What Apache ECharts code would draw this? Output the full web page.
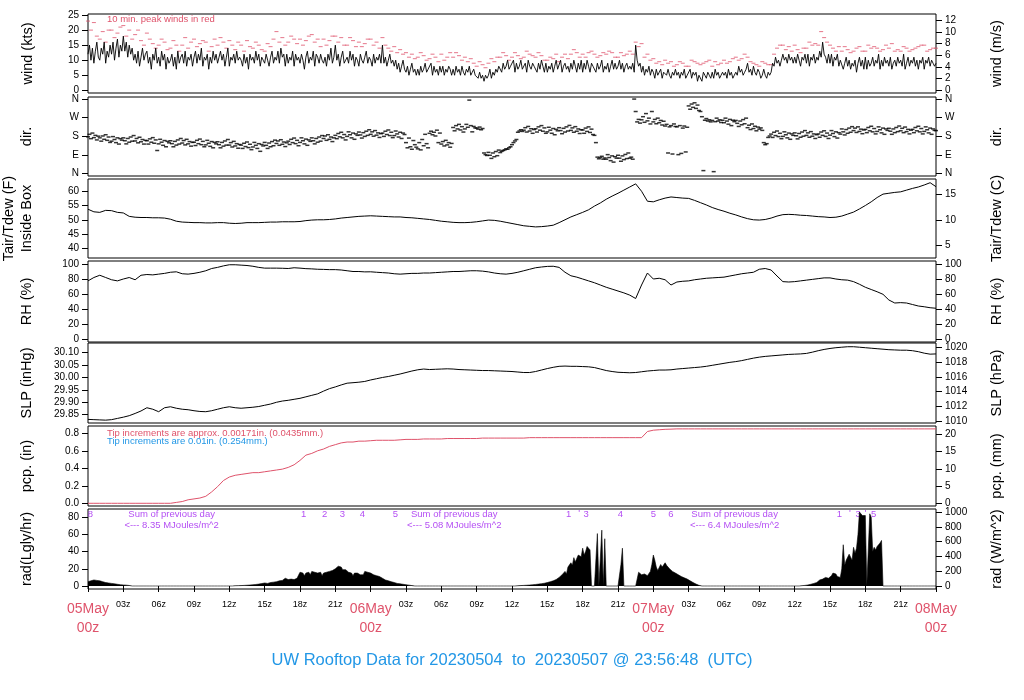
<!DOCTYPE html>
<html><head><meta charset="utf-8">
<script src="https://cdn.jsdelivr.net/npm/echarts@6/dist/echarts.min.js"></script>
<style>html,body{margin:0;padding:0;background:#fff}#c{width:1024px;height:700px}</style>
</head><body><div id="c"></div>
<script>
// ---------- DATA ----------
// hours since 05May 00z. wind, direction, radiation: every 0.125 h; peak wind every 0.25 h; others every 0.5 h
const windKts = [
12,15,10,14,9,13,16,11, 10,14,12,16,9,13,11,15, 12,16,10,14,17,11,15,13, 18,13,16,11,15,12,14,10,
12,9,13,8,11,14,10,12, 13,9,11,7,12,10,14,9, 11,8,13,10,12,7,11,9, 10,12,8,11,7,13,9,11,
12,9,13,8,11,10,12,8, 11,13,9,12,10,14,8,11, 10,12,7,11,9,13,10,12, 9,11,13,10,12,8,11,14,
8,11,10,12,9,13,10,11, 10,8,12,9,11,7,12,10, 11,9,13,10,12,8,11,10, 9,12,10,8,11,13,9,11,
10,13,9,14,11,12,8,12, 9,11,10,13,8,12,10,11, 9,12,10,7,11,13,9,11, 10,13,8,12,11,9,12,10,
9,11,8,12,10,14,9,11, 15,10,12,8,11,13,9,10, 11,9,13,10,12,8,11,10, 8,12,10,9,11,13,9,11,
10,8,12,9,11,10,12,9, 15,9,11,8,10,12,9,10, 8,10,7,9,6,8,10,7, 6,8,5,7,9,6,7,5,
7,5,8,6,7,9,6,7, 7,9,5,8,6,7,5,8, 6,8,5,7,6,8,7,5, 7,5,8,6,7,5,8,6,
5,7,6,8,5,6,7,5, 5,4,6,4,5,3,5,4, 5,7,4,6,5,7,6,8, 8,6,9,7,8,10,7,8,
8,10,6,9,7,8,10,7, 7,9,6,10,8,7,9,8, 8,6,9,7,10,8,6,9, 6,8,7,9,6,8,10,7,
7,10,6,8,9,7,8,6, 9,7,10,8,6,9,7,10, 6,9,7,10,8,6,9,8, 8,6,9,7,8,10,6,8,
7,9,6,8,10,7,9,7, 8,10,7,9,6,8,9,7, 8,7,9,6,15,10,8,9, 6,8,5,7,6,8,5,7,
6,4,7,5,6,7,4,6, 6,5,7,5,4,6,5,7, 5,6,4,6,5,7,4,5, 5,7,4,6,5,6,3,5,
5,3,6,5,4,6,5,4, 6,4,7,5,6,4,5,6, 5,6,4,7,5,6,4,5, 6,5,8,6,7,5,6,7,
9,6,7,5,8,6,5,7, 6,4,5,7,5,4,6,5, 6,9,8,11,9,10,8,10, 12,10,11,9,12,10,11,9,
11,9,12,10,8,11,10,12, 9,12,8,11,10,12,9,11, 10,13,11,16,12,11,9,12, 9,12,8,11,10,12,8,10,
10,7,9,11,8,10,7,9, 8,10,6,9,11,8,10,7, 11,7,10,8,9,11,8,10, 9,12,7,10,8,11,9,10,
8,11,7,9,10,8,11,9, 10,8,12,7,9,11,8,10, 9,11,8,10,7,10,9,11, 7,10,9,11,8,10,9,8,
9];
const peakKts = [
23,20,22.5,18, 17,19.5,16,20, 20,17.5,19,21, 21.5,18,20,17, 18.5,20,16.5,15, 19,17,15.5,14,
15,17,16,13.5, 14,16.5,15,13, 15,17.5,14,16, 17,14.5,15.5,16.5, 16,13,14.5,17, 15,17.5,16,14,
16.5,15,13.5,16, 15,13,16.5,14.5, 14,16,15,13.5, 13,15.5,14.5,17, 19.5,16,17.5,15, 16,18,17,15.5,
17,15,16.5,18, 18.5,16,17,14.5, 17,15,16.5,18, 18,16,17.5,15, 15,17.5,16.5,14.5, 16,14.5,15.5,17,
17,15,16,14, 17.5,15,14,13, 14.5,12.5,13.5,12, 12.5,11,12,10.5, 11,12.5,11.5,10, 10.5,12,11,9.5,
12,10,11,12.5, 11,12.5,11.5,10, 11,9.5,10.5,9, 8,9.5,8.5,7.5, 9,10.5,9.5,11, 11,12.5,11.5,10,
11,12.5,11.5,10.5, 11,13,12,11.5, 11,12.5,11.5,10, 10,11,10.5,12, 9.5,11,12,10.5, 12,13.5,12.5,11,
12,11,12.5,13, 12,11,11.5,12.5, 12,13,12.5,11, 11,12.5,11.5,12, 13,12,16,14.5, 15.5,11,12,10,
10.5,9,9.5,8.5, 10,9,9.5,8, 8.5,9.5,9,8, 8,10,9.5,9, 8.5,9,9.5,10, 8,9.5,8.5,9,
10,9,9.5,10.5, 11,10,10.5,12, 11,9.5,9,8.5, 8,9.5,9,8.5, 8.5,12,14,15, 15,13.5,14.5,13,
15,13.5,12.5,14, 14,16,15,15.5, 15,19.5,17.5,16, 15,14,13,14.5, 13,14.5,13.5,12.5, 13,14,14.5,13,
13,15,14,14.5, 14,13,13.5,15, 14,15.5,13,13.5, 13,14.5,14,13, 13.5,14,14.5,15, 15,13,13.5,14,
14];
const dirDeg = [
178,190,169,196,174,185,163,181, 173,157,182,166,188,161,177,151, 157,179,165,150,173,143,169,162,
173,159,144,170,152,177,157,184, 158,170,149,176,154,165,143,161, 159,143,168,152,174,147,163,112,
144,166,152,137,160,130,156,149, 159,145,130,156,138,163,143,170, 148,160,139,166,144,155,133,151,
152,136,161,145,167,140,156,130, 139,161,147,132,155,125,151,144, 154,140,125,151,133,158,138,165,
138,150,129,156,134,145,123,141, 138,122,147,131,153,126,142,116, 129,151,137,122,145,108,141,134,
151,137,122,148,130,155,135,162, 146,158,137,164,142,153,131,149, 157,141,166,150,172,145,161,135,
151,173,159,144,167,137,163,156, 173,159,144,170,152,177,157,184, 170,182,161,188,166,177,155,173,
185,169,194,178,200,173,189,163, 180,202,188,173,196,166,192,185, 201,187,172,198,180,205,185,212,
190,202,181,208,186,197,175,193, 196,180,205,189,211,184,200,174, 184,206,192,177,200,170,196,189,
150,125,172,130,118,160,140,128, 120,150,115,165,135,190,145,125, 195,205,188,200,182,210,150,196,
143,155,134,161,139,150,128,146, 223,207,232,216,238,211,227,201, 216,238,224,355,232,202,228,221,
220,215,225,212,218,100,92,88, 103,89,74,100,82,107,87,114, 102,108,112,115,120,118,125,130,
140,150,158,165,200,206,212,204, 210,222,201,228,206,217,195,213, 217,201,226,210,232,205,221,195,
202,224,210,195,218,188,214,207, 222,208,193,219,201,226,206,233, 209,221,200,227,205,216,194,212,
211,195,220,204,226,199,215,189, 185,150,80,72,78,84,70,76, 70,92,78,63,86,56,82,75,
89,75,60,86,68,93,73,100, 75,80,70,360,300,250,262,244, 260,275,248,290,255,268,240,300,
250,262,241,268,246,257,235,253, 230,238,100,226,232,95,240,228, 226,92,232,98,220,230,105,224,
327,311,336,320,342,315,331,305, 300,275,15,258,266,254,260,250, 257,10,251,268,254,260,247,258,
246,268,254,239,262,232,258,251, 257,243,228,254,236,261,241,268, 222,234,213,240,218,229,207,225,
215,221,209,150,140,145,175,182, 191,175,200,184,206,179,195,169, 180,202,188,173,196,166,192,185,
197,183,168,194,176,201,181,208, 185,197,176,203,181,192,170,188, 192,176,201,185,207,180,196,170,
186,208,194,179,202,172,198,191, 216,202,187,213,195,220,200,227, 208,220,199,226,204,215,193,211,
214,198,223,207,229,202,218,192, 204,226,212,197,220,190,216,209, 219,205,190,216,198,223,203,230,
207,219,198,225,203,214,192,210, 214,198,223,207,229,202,218,192, 204,226,212,197,220,190,216,209,
208];
const tempF = [
53.7,52.8,52.6,53.3,53.2,52.6,52.4,51.2,50.9,50.8, 50.8,50.7,50.7,50.6,50.2,49.5,49.2,49.1,49.0,49.0,
48.9,48.9,49.0,49.0,48.8,48.7,48.8,49.0,49.0,49.0, 49.1,49.2,49.2,49.3,49.3,49.3,49.4,49.7,49.9,50.0,
50.0,50.1,50.3,50.6,50.8,51.0,51.2,51.3,51.4,51.3, 51.2,51.1,51.0,51.0,50.8,50.7,50.5,50.3,50.1,49.8,
49.5,49.3,49.1,49.0,49.0,49.1,49.3,49.6,49.9,49.8, 49.5,49.1,48.7,48.3,47.9,47.7,47.5,47.6,47.8,48.1,
49.0,50.0,51.0,51.8,52.6,53.5,54.8,55.9,57.2,58.3, 59.3,60.4,61.5,62.6,60.0,56.5,56.3,57.0,57.6,58.0,
57.8,57.6,57.5,56.8,56.0,55.2,54.3,53.6,53.0,52.3, 51.7,51.0,50.4,50.0,49.9,50.1,50.6,51.3,51.8,51.9,
51.8,51.6,51.5,51.3,51.1,51.0,50.8,50.9,51.3,52.0, 52.7,53.8,55.0,56.3,57.8,59.0,59.3,59.6,59.8,60.4,
61.0,61.5,62.2,63.0,61.6];
const rhPct = [
77.5,82,85,82,79,77.5,80,82,79,85, 86,85.5,86.5,87.5,89,89.6,87,86.5,87.5,89,
91,94,95.5,97.5,99,99,98.5,98,97,95.5, 94.5,94.5,94.5,94.3,94,95,94.5,93.8,93.5,93,
92.8,92.5,92.5,92,91,90,90,89.5,89.6,89, 88.5,88,87,86.5,87,87.5,87.5,88,88,88.5,
89,89.5,90,90,90.5,91,91,90.5,89.5,88, 87,86.5,87.5,89,91,93,95,96,96.8,97,
95.5,89,84.3,82.5,80,77.5,75,72,69,66.5, 64,61.5,58.5,54,72,88,80,81,79,72,
76,77,77.5,79,80,81,81.5,82,82.5,84, 85.5,87,88,89,93,94,92,84,76.5,76,
76.5,77.5,78.5,79.5,80.5,81.5,81.5,80,79,78.5, 76.5,73,69,66,63,59.6,52,48,48.5,48,
46,44,43,41.7,41];
const slpInHg = [
29.831,29.830,29.829,29.828,29.830,29.835,29.840,29.846,29.855,29.865,
29.878,29.872,29.862,29.878,29.882,29.876,29.872,29.870,29.866,29.863,
29.862,29.866,29.872,29.878,29.882,29.878,29.876,29.878,29.880,29.883,
29.888,29.893,29.900,29.905,29.908,29.912,29.916,29.922,29.928,29.934,
29.945,29.955,29.962,29.970,29.977,29.979,29.981,29.984,29.990,29.995,
30.000,30.004,30.009,30.014,30.020,30.026,30.031,30.034,30.032,30.033,
30.034,30.035,30.034,30.032,30.031,30.030,30.029,30.028,30.028,30.027,
30.026,30.025,30.024,30.022,30.020,30.020,30.024,30.030,30.036,30.041,
30.045,30.046,30.045,30.045,30.044,30.043,30.040,30.034,30.028,30.024,
30.021,30.020,30.019,30.020,30.023,30.026,30.028,30.030,30.030,30.031,
30.034,30.036,30.038,30.040,30.042,30.045,30.049,30.053,30.057,30.061,
30.064,30.068,30.073,30.078,30.082,30.085,30.087,30.089,30.091,30.093,
30.094,30.095,30.097,30.102,30.108,30.113,30.117,30.120,30.122,30.124,
30.124,30.122,30.120,30.118,30.116,30.114,30.112,30.111,30.110,30.110,
30.108,30.104,30.098,30.094,30.095];
const pcpIn = [
0,0,0,0,0,0,0,0,0,0, 0,0,0,0,0,0.01,0.02,0.04,0.05,0.06,
0.08,0.13,0.19,0.26,0.30,0.32,0.33,0.34,0.35,0.35, 0.36,0.37,0.38,0.39,0.41,0.44,0.49,0.55,0.57,0.60,
0.62,0.65,0.67,0.69,0.70,0.70,0.71,0.71,0.715,0.72, 0.72,0.72,0.72,0.725,0.73,0.73,0.73,0.735,0.735,0.735,
0.735,0.74,0.74,0.74,0.74,0.74,0.74,0.745,0.745,0.745, 0.745,0.745,0.745,0.745,0.745,0.75,0.75,0.75,0.75,0.75,
0.75,0.75,0.75,0.75,0.75,0.75,0.75,0.75,0.75,0.75, 0.75,0.75,0.75,0.75,0.75,0.82,0.835,0.84,0.845,0.847,
0.85,0.85,0.85,0.85,0.85,0.85,0.85,0.85,0.85,0.85, 0.85,0.85,0.85,0.85,0.85,0.85,0.85,0.85,0.85,0.85,
0.85,0.85,0.85,0.85,0.85,0.85,0.85,0.85,0.85,0.85, 0.85,0.85,0.85,0.85,0.85,0.85,0.85,0.85,0.85,0.85,
0.85,0.85,0.85,0.85,0.85];
const radLy = [
5,5.5,6,6.5,7,6.5,6.5,6, 6,5.5,5,4.5,4,3.8,3.5,3.2, 3,2.8,2.5,2.2,2,1.8,1.5,1.3, 1.2,1.1,1,0.8,0.6,0.3,0,0,
0,0,0,0,0,0,0,0, 0,0,0,0,0,0,0,0, 0,0,0,0,0,0,0,0, 0,0,0,0,0,0,0,0,
0,0,0,0,0,0,0,0, 0,0,0,0,0,0,0,0, 0,0,0,0,0,0,0,0, 0,0,0,0,0,0,0,0,
0,0,0,0,0.3,0.3,0.4,0.4, 0.5,0.6,0.7,0.8,0.9,1,1.1,1.2, 1.4,1.6,1.8,2,2.2,2.5,2.8,3, 3.5,3.2,3,3.8,4,4.2,4.5,4,
5,5.5,6,5.5,6.5,8,9,7, 7.5,7,8,8.5,7.5,8.5,9,8, 16,14,15,12,15,17,16,13, 17,15,16,14,15,14,16,12,
15,17,16,18,17,19,18,19, 20,21,23,22,22,19,20,19, 19,16,17,15,12,15,14,15, 15,13,14,13,17,18,16,15,
15,14,13,14,12,13,11,10, 9,8,7,7,6,5.5,5,4.5, 4,3.5,3,3,2.5,2.2,2,1.8, 1.5,1.2,1,0.8,0.5,0.3,0,0,
0,0,0,0,0,0,0,0, 0,0,0,0,0,0,0,0, 0,0,0,0,0,0,0,0, 0,0,0,0,0,0,0,0,
0,0,0,0,0,0,0,0, 0,0,0,0,0,0,0,0, 0,0,0,0,0,0,0,0, 0,0,0,0,0,0,0,0,
0,0,0,0,0.3,0.4,0.5,0.6, 0.7,0.8,0.9,1,1.1,1.2,1.4,1.6, 1.8,2,2.2,2.5,2.7,3,3.2,3.6, 4,4.5,5,5.5,6,7,7.5,8.5,
10,12,13,15,17,14,22,20, 27,24,33,28,30,36,38,34, 44,36,40,46,48,42,0,0, 0,0,61,0,0,65,0,55,
0,0,0,0,0,0,0,0, 0,0,25,44,0,0,0,0, 0,0,0,0,0,0,16,18, 13,15,14,12,12,14,17,25,
36,30,22,18,20,25,22,20, 27,24,22,20,18,17,16,15, 14,13,12,11,10,9.5,9,8, 7,6,5,4,3,2.2,1.5,0.8,
0,0,0,0,0,0,0,0, 0,0,0,0,0,0,0,0, 0,0,0,0,0,0,0,0, 0,0,0,0,0,0,0,0,
0,0,0,0,0,0,0,0, 0,0,0,0,0,0,0,0, 0,0,0,0,0,0,0,0, 0,0,0,0,0,0,0,0,
0,0,0,0,0.3,0.4,0.5,0.7, 1,1.2,1.5,2,2.5,3,3.5,4, 5,7,9,8,8,10,11,9, 10,12,15,13,14,11,12,10,
20,48,24,30,32,37,35,30, 45,38,44,60,86,84,82,80, 82,0,0,84,80,40,45,42, 46,48,50,53,0,0,0,0,
0,0,0,0,0,0,0,0, 0,0,0,0,0,0,0,0, 0,0,0,0,0,0,0,0, 0,0,0,0,0,0,0,0,
0];
const dayLabels = ['05May', '06May', '07May', '08May'];
const dirLabels = {0: 'N', 90: 'E', 180: 'S', 270: 'W', 360: 'N'};
const radNotes = [
  [0.2, 83.7, '8'], [7.1, 83.7, 'Sum of previous day'], [7.1, 70, '<--- 8.35 MJoules/m^2'],
  [18.3, 83.7, '1'], [20.1, 83.7, '2'], [21.6, 83.7, '3'], [23.3, 83.7, '4'], [26.1, 83.7, '5'],
  [31.1, 83.7, 'Sum of previous day'], [31.1, 70, '<--- 5.08 MJoules/m^2'],
  [40.8, 83.7, '1'], [41.7, 85, "'"], [42.3, 83.7, '3'], [45.2, 83.7, '4'], [48.0, 83.7, '5'], [49.5, 83.7, '6'],
  [54.9, 83.7, 'Sum of previous day'], [54.9, 70, '<--- 6.4 MJoules/m^2'],
  [63.8, 83.7, '1'], [64.7, 85, "'"], [65.4, 83.7, '3'], [66.0, 85, "'"], [66.7, 83.7, '5']
];
const titleText = 'UW Rooftop Data for 20230504  to  20230507 @ 23:56:48  (UTC)';

// ---------- CHART ----------
const FONT = '"Liberation Sans", Arial, Helvetica, sans-serif';
const RED = '#DF536B', BLUE = '#2297E6', PURPLE = '#A020F0';
const L = 88, R = 88;
const panels = [
  {top: 14, h: 79}, {top: 97, h: 79}, {top: 179, h: 79}, {top: 261, h: 81},
  {top: 343, h: 80}, {top: 426, h: 80}, {top: 509, h: 80}
];
const series = (arr, step) => arr.map((v, i) => [i * step, v]);

function yAx(gi, pos, min, max, ticks, fmt) {
  return {
    type: 'value', gridIndex: gi, position: pos, min: min, max: max,
    axisLine: {show: false}, splitLine: {show: false},
    axisTick: {show: true, length: 6, customValues: ticks, lineStyle: {color: '#000', width: 1}},
    axisLabel: {customValues: ticks, formatter: fmt, fontSize: 10, color: '#000', margin: 9, fontFamily: FONT}
  };
}
const KT2MS = 0.514444, INHG2HPA = 33.8639, IN2MM = 25.4, LY2W = 11.622;
const f2c = f => (f - 32) / 1.8;
const yAxes = [
  yAx(0, 'left', -0.9, 25.35, [0,5,10,15,20,25], v => String(v)),
  yAx(0, 'right', -0.9 * KT2MS, 25.35 * KT2MS, [0,2,4,6,8,10,12], v => String(v)),
  yAx(1, 'left', -11, 370, [0,90,180,270,360], v => dirLabels[v]),
  yAx(1, 'right', -11, 370, [0,90,180,270,360], v => dirLabels[v]),
  yAx(2, 'left', 36.6, 64.3, [40,45,50,55,60], v => String(v)),
  yAx(2, 'right', f2c(36.6), f2c(64.3), [5,10,15], v => String(v)),
  yAx(3, 'left', -4, 104, [0,20,40,60,80,100], v => String(v)),
  yAx(3, 'right', -4, 104, [0,20,40,60,80,100], v => String(v)),
  yAx(4, 'left', 29.8165, 30.139, [29.85,29.90,29.95,30.00,30.05,30.10], v => v.toFixed(2)),
  yAx(4, 'right', 29.8165 * INHG2HPA, 30.139 * INHG2HPA, [1010,1012,1014,1016,1018,1020], v => String(v)),
  yAx(5, 'left', -0.031, 0.883, [0,0.2,0.4,0.6,0.8], v => v.toFixed(1)),
  yAx(5, 'right', -0.031 * IN2MM, 0.883 * IN2MM, [0,5,10,15,20], v => String(v)),
  yAx(6, 'left', -3.5, 89.6, [0,20,40,60,80], v => String(v)),
  yAx(6, 'right', -3.5 * LY2W, 89.6 * LY2W, [0,200,400,600,800,1000], v => String(v))
];
const xAxes = panels.map((p, i) => ({
  type: 'value', gridIndex: i, min: 0, max: 72, interval: 3, show: i === 6,
  axisLine: {show: false}, splitLine: {show: false},
  axisTick: {show: true, length: 6, lineStyle: {color: '#000'}},
  axisLabel: {
    fontSize: 9, color: '#000', margin: 11, lineHeight: 10, fontFamily: FONT,
    formatter: v => {
      const hh = v % 24;
      if (hh === 0) return '{d|' + dayLabels[v / 24] + '}\n{d|00z}';
      return (hh < 10 ? '0' : '') + hh + 'z';
    },
    rich: {d: {fontSize: 14, lineHeight: 19, color: RED, fontFamily: FONT}}
  }
}));
const grids = panels.map(p => ({left: L, right: R, top: p.top, height: p.h, show: true,
  borderColor: '#000', borderWidth: 1, backgroundColor: 'transparent'}));

const lineS = (xi, yi, data, color, w) => ({type: 'line', xAxisIndex: xi, yAxisIndex: yi, data: data,
  symbol: 'none', lineStyle: {color: color, width: w || 1}, itemStyle: {color: color},
  animation: false, silent: true});

const leftTitles = [['wind (kts)', 28, 0], ['dir.', 27, 1], ['Tair/Tdew (F)', 9, 2], ['Inside Box', 27, 2],
  ['RH (%)', 27, 3], ['SLP (inHg)', 27, 4], ['pcp. (in)', 27, 5], ['rad(Lgly/hr)', 27, 6]];
const rightTitles = [['wind (m/s)', 997, 0], ['dir.', 997, 1], ['Tair/Tdew (C)', 997, 2], ['RH (%)', 997, 3],
  ['SLP (hPa)', 997, 4], ['pcp. (mm)', 997, 5], ['rad (W/m^2)', 997, 6]];
const graphics = leftTitles.concat(rightTitles).map(t => ({
  type: 'text', x: t[1], y: panels[t[2]].top + panels[t[2]].h / 2, rotation: Math.PI / 2,
  style: {text: t[0], fontSize: 14.5, fontFamily: FONT, fill: '#000', textAlign: 'center', textVerticalAlign: 'middle'}
}));
graphics.push(
  {type: 'text', x: 107, y: 19, style: {text: '10 min. peak winds in red', fontSize: 9.5, fontFamily: FONT, fill: RED, textVerticalAlign: 'middle'}},
  {type: 'text', x: 107, y: 433, style: {text: 'Tip increments are approx. 0.00171in. (0.0435mm.)', fontSize: 9.5, fontFamily: FONT, fill: RED, textVerticalAlign: 'middle'}},
  {type: 'text', x: 107, y: 441.5, style: {text: 'Tip increments are 0.01in. (0.254mm.)', fontSize: 9.5, fontFamily: FONT, fill: BLUE, textVerticalAlign: 'middle'}},
  {type: 'text', x: 512, y: 660, style: {text: titleText, fontSize: 16.5, fontFamily: FONT, fill: BLUE, textAlign: 'center', textVerticalAlign: 'middle'}}
);

const chart = echarts.init(document.getElementById('c'), null, {renderer: 'canvas'});
chart.setOption({
  animation: false, backgroundColor: '#fff',
  grid: grids, xAxis: xAxes, yAxis: yAxes, graphic: graphics,
  series: [
    {type: 'scatter', xAxisIndex: 0, yAxisIndex: 0, data: series(peakKts, 0.25), symbol: 'rect', symbolSize: [4, 1],
      itemStyle: {color: RED, opacity: 0.8}, silent: true},
    lineS(0, 0, series(windKts, 0.125), '#000', 0.9),
    {type: 'scatter', xAxisIndex: 1, yAxisIndex: 2, data: series(dirDeg, 0.125), symbol: 'rect', symbolSize: [4, 1.5],
      itemStyle: {color: '#000'}, silent: true},
    lineS(2, 4, series(tempF, 0.5), '#000'),
    lineS(3, 6, series(rhPct, 0.5), '#000'),
    lineS(4, 8, series(slpInHg, 0.5), '#000'),
    lineS(5, 10, series(pcpIn, 0.5), RED),
    Object.assign(lineS(6, 12, series(radLy, 0.125), '#000'), {areaStyle: {color: '#000', opacity: 1}, lineStyle: {width: 0.6, color: '#000'}}),
    {type: 'scatter', xAxisIndex: 6, yAxisIndex: 12, symbolSize: 0.01, silent: true,
      data: radNotes.map(n => ({value: [n[0], n[1]], name: n[2]})),
      label: {show: true, position: 'inside', formatter: p => p.name, color: PURPLE, fontSize: 9.5, fontFamily: FONT}}
  ]
});
</script></body></html>
